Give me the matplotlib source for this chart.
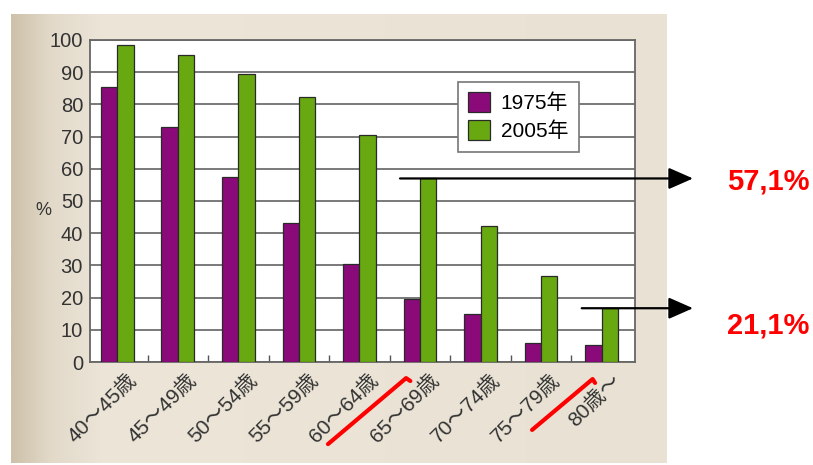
import numpy as np
import matplotlib.pyplot as plt
from matplotlib import transforms
from matplotlib.colors import to_rgb

plt.rcParams['font.family'] = ['Liberation Sans', 'Noto Sans CJK JP']

# data
ages = ['40〜45歳', '45〜49歳', '50〜54歳', '55〜59歳', '60〜64歳',
        '65〜69歳', '70〜74歳', '75〜79歳', '80歳〜']
pct_1975 = [85.5, 73.1, 57.5, 43.3, 30.4, 19.6, 14.9, 5.8, 5.3]
pct_2005 = [98.5, 95.3, 89.4, 82.4, 70.5, 57.0, 42.2, 26.7, 16.7]
yticks = list(range(0, 101, 10))
callout_idx = [5, 8]
callout_txt = ['57,1%', '21,1%']
struck_idx = [5, 8]

purple = '#8a0a7a'
green = '#68a810'

fig = plt.figure(figsize=(8.13, 4.65), dpi=100)
fig.patch.set_facecolor('white')

# beige page of the scan (left edge a bit darker)
bg = fig.add_axes([11/813, 2/465, 655/813, 449/465])
stops = [0, 0.06, 0.14, 1]
cols = [to_rgb('#cdc1aa'), to_rgb('#e2d9c9'), to_rgb('#ece5d8'), to_rgb('#e9e2d4')]
xs = np.linspace(0, 1, 400)
grad = np.stack([np.interp(xs, stops, [c[k] for c in cols]) for k in range(3)], axis=-1)
bg.imshow(grad[None, :, :], aspect='auto', extent=[0, 1, 0, 1])
bg.set_axis_off()

ax = fig.add_axes([90/813, 103/465, 545/813, 322/465])
ax.set_facecolor('white')
x = np.arange(len(ages))
w = 0.27
ax.bar(x - w/2, pct_1975, w, color=purple, edgecolor='#2a2a2a', lw=0.9,
       label='1975年', zorder=3)
ax.bar(x + w/2, pct_2005, w, color=green, edgecolor='#2a2a2a', lw=0.9,
       label='2005年', zorder=3)

ax.set_xlim(-0.45, 8.55)
ax.set_ylim(0, 100)
ax.set_yticks(yticks)
ax.yaxis.grid(True, color='#6e6e6e', lw=1.3)
ax.set_axisbelow(True)
ax.tick_params(axis='y', length=0, labelsize=14.5, pad=5, labelcolor='#333333')

ax.set_xticks(x + 0.15)
ax.set_xticklabels(ages, rotation=45, ha='right', va='top',
                   rotation_mode='anchor', fontsize=15, color='#333333')
ax.tick_params(axis='x', which='major', length=0, pad=6)
ax.set_xticks(x[:-1] + 0.5, minor=True)
ax.tick_params(axis='x', which='minor', direction='in', length=5,
               color='#555555', width=1)

for s in ax.spines.values():
    s.set_color('#666666')
    s.set_linewidth(1.3)

ax.text(-0.085, 0.472, '%', transform=ax.transAxes, fontsize=13,
        ha='center', va='center', color='#333333')

leg = ax.legend(loc='upper left', bbox_to_anchor=(0.675, 0.87), fancybox=False,
                edgecolor='#777777', fontsize=15, handlelength=1.05,
                handleheight=1.05, borderpad=0.5, labelspacing=0.35,
                handletextpad=0.5, borderaxespad=0, framealpha=1)
leg.get_frame().set_linewidth(1.2)
leg.set_zorder(5)

# call-out arrows and red values
for i in callout_idx:
    y = pct_2005[i]
    ax.annotate('', xy=(693/813, y), xycoords=('figure fraction', 'data'),
                xytext=(i - 0.33, y), textcoords='data',
                arrowprops=dict(arrowstyle='-|>,head_length=0.75,head_width=0.33',
                                color='black', lw=1.6, mutation_scale=20,
                                shrinkA=0, shrinkB=0),
                annotation_clip=False, zorder=6)
fig.text(768/813, 1 - 181/465, callout_txt[0], color='#ff0000', fontsize=21,
         fontweight='bold', ha='center', va='center')
fig.text(768/813, 1 - 325/465, callout_txt[1], color='#ff0000', fontsize=21,
         fontweight='bold', ha='center', va='center')

# red strokes over the struck age labels
trans = transforms.blended_transform_factory(ax.transData, ax.transAxes)
strokes = [([-1.52, -0.23, -0.16], [-0.255, -0.05, -0.059]),
           ([-1.15, -0.15, -0.11], [-0.211, -0.053, -0.065])]
for i, (dx, dy) in zip(struck_idx, strokes):
    ax.plot(i + np.array(dx), dy, color='#ff0000', lw=3, transform=trans,
            clip_on=False, zorder=7, solid_capstyle='round')

fig.savefig('out.png', dpi=100)
